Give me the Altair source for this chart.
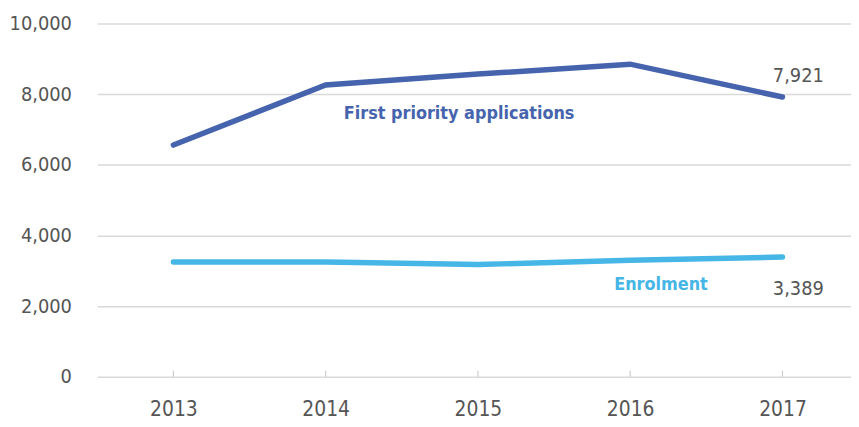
import altair as alt
import pandas as pd

years = [2013, 2014, 2015, 2016, 2017]
first_priority = [6560, 8260, 8570, 8850, 7921]
enrolment = [3250, 3250, 3175, 3300, 3389]
series_names = ["First priority applications", "Enrolment"]
series_colors = ["#4664ad", "#45b6e6"]
y_ticks = [0, 2000, 4000, 6000, 8000, 10000]

FONT = "DejaVu Sans Condensed"
GRAY = "#555555"

rows = []
for y, v in zip(years, first_priority):
    rows.append({"year": y, "value": v, "series": series_names[0]})
for y, v in zip(years, enrolment):
    rows.append({"year": y, "value": v, "series": series_names[1]})
df = pd.DataFrame(rows)

x_scale = alt.Scale(domain=[2012.5, 2017.45], nice=False, zero=False)
x_axis = alt.Axis(title=None, values=years, format="d", labelAngle=0, domain=False,
                  ticks=False, labelFont=FONT, labelFontSize=21, labelColor=GRAY,
                  labelPadding=22, grid=False)
y_scale = alt.Scale(domain=[0, 10000], nice=False)


def X():
    return alt.X("year:Q", scale=x_scale, axis=x_axis)


lines = alt.Chart(df).mark_line(strokeWidth=5.5, strokeCap="round").encode(
    x=X(),
    y=alt.Y("value:Q", scale=y_scale,
            axis=alt.Axis(title=None, values=y_ticks, format=",d", domain=False, ticks=False,
                          labelFont=FONT, labelFontSize=20, labelColor=GRAY,
                          labelPadding=26, gridColor="#d9d9d9", gridWidth=1.5)),
    color=alt.Color("series:N", scale=alt.Scale(domain=series_names, range=series_colors),
                    legend=None),
)

tick_df = pd.DataFrame({"year": years})
ticks = alt.Chart(tick_df).mark_rule(color="#cccccc", strokeWidth=1.2).encode(
    x=X(),
    y=alt.value(350),
    y2=alt.value(356),
)

end_df = pd.DataFrame({
    "year": [years[-1], years[-1]],
    "value": [first_priority[-1], enrolment[-1]],
    "label": [f"{first_priority[-1]:,}", f"{enrolment[-1]:,}"],
})
end_top = alt.Chart(end_df.iloc[[0]]).mark_text(
    font=FONT, fontSize=20, color=GRAY, dx=16, dy=-21
).encode(x=X(), y=alt.Y("value:Q", scale=y_scale), text="label:N")
end_bot = alt.Chart(end_df.iloc[[1]]).mark_text(
    font=FONT, fontSize=20, color=GRAY, dx=16, dy=32
).encode(x=X(), y=alt.Y("value:Q", scale=y_scale), text="label:N")

lab_fp = alt.Chart(pd.DataFrame({"year": [2015], "value": [7444],
                                 "label": [series_names[0]]})).mark_text(
    font=FONT, fontSize=18, fontWeight="bold", color=series_colors[0], dx=-19
).encode(x=X(), y=alt.Y("value:Q", scale=y_scale), text="label:N")

lab_en = alt.Chart(pd.DataFrame({"year": [2016], "value": [2584],
                                 "label": [series_names[1]]})).mark_text(
    font=FONT, fontSize=18, fontWeight="bold", color=series_colors[1], dx=31
).encode(x=X(), y=alt.Y("value:Q", scale=y_scale), text="label:N")

chart = alt.layer(lines, ticks, end_top, end_bot, lab_fp, lab_en).properties(
    width=760, height=356,
    autosize=alt.AutoSizeParams(type="none"),
    padding={"left": 90, "top": 14, "right": 0, "bottom": 48},
).configure_view(stroke=None)

chart.save("out.html", embed_options={"renderer": "svg", "actions": False})
